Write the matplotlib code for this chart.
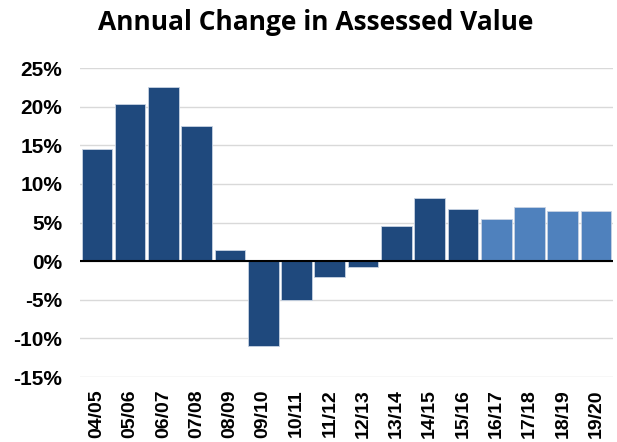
import numpy as np
import matplotlib
matplotlib.use("Agg")
import matplotlib.pyplot as plt
from matplotlib.ticker import PercentFormatter

plt.rcParams['axes.unicode_minus'] = False

# Data
years = ['04/05', '05/06', '06/07', '07/08', '08/09', '09/10', '10/11', '11/12',
         '12/13', '13/14', '14/15', '15/16', '16/17', '17/18', '18/19', '19/20']
change = [14.5, 20.4, 22.5, 17.5, 1.5, -11.0, -5.0, -2.1,
          -0.8, 4.5, 8.2, 6.8, 5.5, 7.0, 6.5, 6.5]
projected = [False] * 12 + [True] * 4

dark = '#1f497d'
light = '#4f81bd'
colors = [light if p else dark for p in projected]

fig = plt.figure(figsize=(6.17, 4.42), dpi=100)
ax = fig.add_axes([0.13, 0.147, 0.863, 0.699])

x = np.arange(len(years))
ax.bar(x, change, width=0.92, color=colors, edgecolor='#c8d3e3', linewidth=0.6, zorder=2)
ax.axhline(0, color='black', lw=1.5, zorder=3)

ax.set_ylim(-15, 25)
ax.set_yticks(np.arange(-15, 26, 5))
ax.yaxis.set_major_formatter(PercentFormatter(decimals=0))
ax.set_xlim(-0.5, len(years) - 0.5)
ax.set_xticks(x)
ax.set_xticklabels(years, rotation=90)

ax.grid(axis='y', color='#d9d9d9', lw=1, zorder=0)
for s in ax.spines.values():
    s.set_visible(False)
ax.tick_params(length=0)
for lab in ax.get_yticklabels():
    lab.set_fontfamily('Liberation Sans')
    lab.set_fontweight('bold')
    lab.set_fontsize(15)
for lab in ax.get_xticklabels():
    lab.set_fontfamily('Liberation Sans')
    lab.set_fontweight('bold')
    lab.set_fontsize(14)
ax.tick_params(axis='y', pad=13)
ax.tick_params(axis='x', pad=9)

fig.text(0.511, 0.95, 'Annual Change in Assessed Value', ha='center', va='center',
         fontsize=19, fontweight='bold', family='Open Sans')

fig.savefig('out.png', dpi=100)
